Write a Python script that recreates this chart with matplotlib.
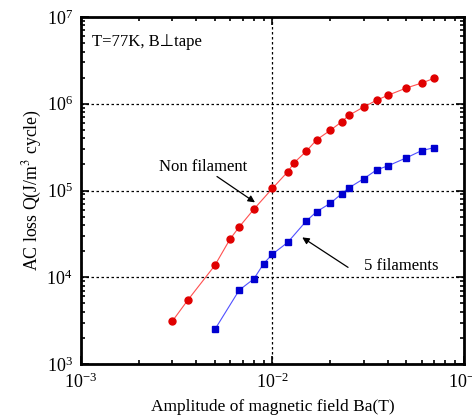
import numpy as np
import matplotlib
matplotlib.use("Agg")
import matplotlib.pyplot as plt
from matplotlib.ticker import LogLocator, NullFormatter

# --- Data ---
ba_non = [0.003, 0.0036, 0.005, 0.006, 0.0067, 0.008, 0.01, 0.012, 0.013, 0.015,
          0.017, 0.02, 0.023, 0.025, 0.03, 0.035, 0.04, 0.05, 0.06, 0.07]
q_non = [3.12e3, 5.4e3, 1.37e4, 2.75e4, 3.8e4, 6.1e4, 1.06e5, 1.64e5, 2.1e5, 2.83e5,
         3.84e5, 4.93e5, 6.2e5, 7.34e5, 9.2e5, 1.1e6, 1.25e6, 1.52e6, 1.73e6, 1.97e6]

ba_5f = [0.005, 0.0067, 0.008, 0.009, 0.01, 0.012, 0.015, 0.017, 0.02, 0.023,
         0.025, 0.03, 0.035, 0.04, 0.05, 0.06, 0.07]
q_5f = [2.5e3, 7.1e3, 9.6e3, 1.44e4, 1.85e4, 2.52e4, 4.44e4, 5.7e4, 7.1e4, 9.2e4,
        1.07e5, 1.37e5, 1.73e5, 1.92e5, 2.38e5, 2.88e5, 3.12e5]

plt.rcParams["font.family"] = ["Liberation Serif", "DejaVu Serif"]
plt.rcParams["mathtext.fontset"] = "stix"

fig = plt.figure(figsize=(4.72, 4.18), dpi=100)
ax = fig.add_axes([81 / 472, 54 / 418, 383 / 472, 347 / 418])

ax.plot(ba_non, q_non, color="#ff5050", lw=0.8, marker="o", ms=5,
        mfc="#e00000", mec="#e00000", zorder=3)
ax.plot(ba_5f, q_5f, color="#5050ff", lw=0.8, marker="s", ms=5,
        mfc="#0000d0", mec="#0000d0", zorder=3)

ax.set_xscale("log")
ax.set_yscale("log")
ax.set_xlim(1e-3, 1e-1)
ax.set_ylim(1e3, 1e7)

ax.xaxis.set_minor_locator(LogLocator(base=10, subs=np.arange(2, 10)))
ax.yaxis.set_minor_locator(LogLocator(base=10, subs=np.arange(2, 10)))
ax.xaxis.set_minor_formatter(NullFormatter())
ax.yaxis.set_minor_formatter(NullFormatter())

ax.tick_params(which="both", direction="in", top=True, right=True, width=1.2)
ax.tick_params(which="major", length=6, labelsize=13, pad=6)
ax.tick_params(which="minor", length=3)
for sp in ax.spines.values():
    sp.set_linewidth(2)

ax.grid(which="major", color="black", linestyle=(0, (2, 2)), lw=0.9)

ax.set_xlabel("Amplitude of magnetic field Ba(T)", fontsize=12.5, labelpad=5)
ax.set_ylabel("AC loss Q(J/m$^3$ cycle)", fontsize=12.8, labelpad=2)

ax.text(0.03, 0.95, "T=77K, B\u22a5tape", transform=ax.transAxes,
        fontsize=12, va="top", ha="left", family=["Liberation Serif", "DejaVu Sans"])

# annotations: labels and arrows
ax.text(0.00436, 1.89e5, "Non filament", fontsize=12, ha="center", va="center")
ax.annotate("", xy=(0.0081, 7.3e4), xytext=(0.00513, 1.45e5),
            arrowprops=dict(arrowstyle="-|>", color="black", lw=0.9,
                            shrinkA=0, shrinkB=0, mutation_scale=10))
ax.text(0.0472, 1.34e4, "5 filaments", fontsize=12, ha="center", va="center")
ax.annotate("", xy=(0.0143, 2.88e4), xytext=(0.0248, 1.3e4),
            arrowprops=dict(arrowstyle="-|>", color="black", lw=0.9,
                            shrinkA=0, shrinkB=0, mutation_scale=10))

fig.savefig("out.png", dpi=100)
